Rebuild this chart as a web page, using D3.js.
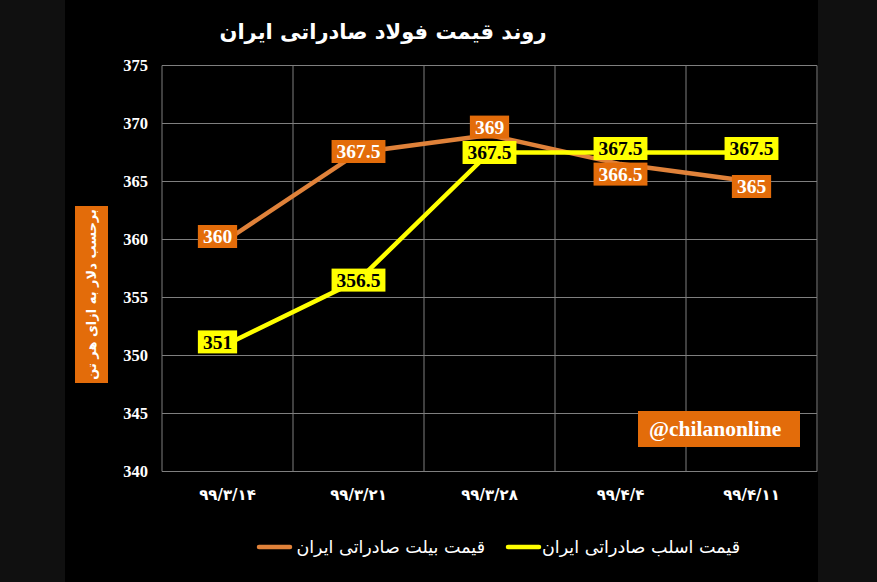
<!DOCTYPE html>
<html>
<head>
<meta charset="utf-8">
<script src="https://cdn.jsdelivr.net/npm/d3@7"></script>
<style>
  html, body { margin: 0; padding: 0; background: #101010; }
  svg { display: block; }
</style>
</head>
<body>
<svg id="chart" width="877" height="582"></svg>
<script>
// data
const dates = ['۹۹/۳/۱۴', '۹۹/۳/۲۱', '۹۹/۳/۲۸', '۹۹/۴/۴', '۹۹/۴/۱۱'];
const billetPrice = [360, 367.5, 369, 366.5, 365];   // قیمت بیلت
const slabPrice = [351, 356.5, 367.5, 367.5, 367.5]; // قیمت اسلب
const yTicks = [340, 345, 350, 355, 360, 365, 370, 375];

const titleText = 'روند قیمت فولاد صادراتی ایران';
const yTitle = 'برحسب دلار به ازای هر تن';
const billetName = 'قیمت بیلت صادراتی ایران';
const slabName = 'قیمت اسلب صادراتی ایران';

const orange = '#e36c0a';
const lineOrange = '#e0823a';
const yellow = '#ffff00';
const persian = "'DejaVu Sans', sans-serif";
const serif = "'Liberation Serif', serif";

const svg = d3.select('#chart');

// black panel
svg.append('rect').attr('x', 65).attr('y', 0).attr('width', 753).attr('height', 582).attr('fill', '#000');

const plot = {left: 162, right: 817, top: 65.5, bottom: 471.5};

const x = d3.scalePoint().domain(dates).range([plot.left, plot.right]).padding(0.5);
const y = d3.scaleLinear().domain([340, 375]).range([plot.bottom, plot.top]);

// grid
const band = x.step();
svg.append('g')
  .selectAll('line')
  .data(yTicks)
  .join('line')
  .attr('x1', plot.left).attr('x2', plot.right)
  .attr('y1', d => y(d)).attr('y2', d => y(d))
  .attr('stroke', '#7f7f7f').attr('stroke-width', 1);

svg.append('g')
  .selectAll('line')
  .data(d3.range(dates.length + 1))
  .join('line')
  .attr('x1', i => plot.left + i * band).attr('x2', i => plot.left + i * band)
  .attr('y1', plot.top).attr('y2', plot.bottom)
  .attr('stroke', '#7f7f7f').attr('stroke-width', 1);

// y tick labels
svg.append('g')
  .selectAll('text')
  .data(yTicks)
  .join('text')
  .attr('x', 148)
  .attr('y', d => y(d))
  .attr('dy', '0.35em')
  .attr('text-anchor', 'end')
  .attr('fill', '#fff')
  .attr('font-family', serif)
  .attr('font-weight', 'bold')
  .attr('font-size', 16.5)
  .text(d => d);

// x tick labels
svg.append('g')
  .selectAll('text')
  .data(dates)
  .join('text')
  .attr('x', d => x(d))
  .attr('y', 495)
  .attr('dy', '0.35em')
  .attr('text-anchor', 'middle')
  .attr('direction', 'ltr')
  .attr('fill', '#fff')
  .attr('font-family', persian)
  .attr('font-weight', 'bold')
  .attr('font-size', 15)
  .text(d => d);

// lines
const line = d3.line().x((d, i) => x(dates[i])).y(d => y(d));

svg.append('path')
  .datum(billetPrice)
  .attr('d', line)
  .attr('fill', 'none')
  .attr('stroke', lineOrange)
  .attr('stroke-width', 4.5);

svg.append('path')
  .datum(slabPrice)
  .attr('d', line)
  .attr('fill', 'none')
  .attr('stroke', yellow)
  .attr('stroke-width', 4.5);

// data labels
function drawLabels(values, nudges, boxFill, textFill) {
  const g = svg.append('g');
  values.forEach((v, i) => {
    const cx = x(dates[i]) + nudges[i][0];
    const cy = y(v) + nudges[i][1];
    const lg = g.append('g').attr('transform', `translate(${cx},${cy})`);
    const t = lg.append('text')
      .attr('text-anchor', 'middle')
      .attr('dy', '0.35em')
      .attr('fill', textFill)
      .attr('font-family', serif)
      .attr('font-weight', 'bold')
      .attr('font-size', 19.5)
      .text(v);
    const w = t.node().getComputedTextLength() + 10;
    lg.insert('rect', 'text')
      .attr('x', -w / 2).attr('y', -11.5)
      .attr('width', w).attr('height', 23)
      .attr('fill', boxFill);
  });
}

drawLabels(billetPrice, [[-10, -3], [0, -1], [0, -8], [0, 10], [0, 5]], orange, '#fff');
drawLabels(slabPrice, [[-10, -2], [0, 0], [0, 0], [0, -4], [0, -4]], yellow, '#000');

// title
svg.append('text')
  .attr('x', 383)
  .attr('y', 39)
  .attr('text-anchor', 'middle')
  .attr('fill', '#fff')
  .attr('font-family', persian)
  .attr('font-weight', 'bold')
  .attr('font-size', 21)
  .text(titleText);

// y axis title
svg.append('rect')
  .attr('x', 75).attr('y', 206).attr('width', 33).attr('height', 177)
  .attr('fill', orange);
svg.append('text')
  .attr('transform', 'translate(91.5,294.5) rotate(-90)')
  .attr('text-anchor', 'middle')
  .attr('dy', '0.35em')
  .attr('fill', '#fff')
  .attr('font-family', persian)
  .attr('font-weight', 'bold')
  .attr('font-size', 13)
  .text(yTitle);

// watermark
svg.append('rect')
  .attr('x', 638).attr('y', 411).attr('width', 162).attr('height', 36)
  .attr('fill', orange);
svg.append('text')
  .attr('x', 649).attr('y', 436)
  .attr('fill', '#fff')
  .attr('font-family', serif)
  .attr('font-weight', 'bold')
  .attr('font-size', 21.5)
  .text('@chilanonline');

// legend
const legendItems = [
  {name: slabName, color: yellow, x0: 508, tx: 740},
  {name: billetName, color: lineOrange, x0: 259, tx: 485}
];
const legend = svg.append('g');
legendItems.forEach(d => {
  legend.append('line')
    .attr('x1', d.x0).attr('x2', d.x0 + 31)
    .attr('y1', 547).attr('y2', 547)
    .attr('stroke', d.color)
    .attr('stroke-width', 4.5)
    .attr('stroke-linecap', 'round');
  legend.append('text')
    .attr('x', d.tx)
    .attr('y', 547)
    .attr('dy', '0.35em')
    .attr('text-anchor', 'end')
    .attr('fill', '#fff')
    .attr('font-family', persian)
    .attr('font-size', 17.5)
    .text(d.name);
});
</script>
</body>
</html>
